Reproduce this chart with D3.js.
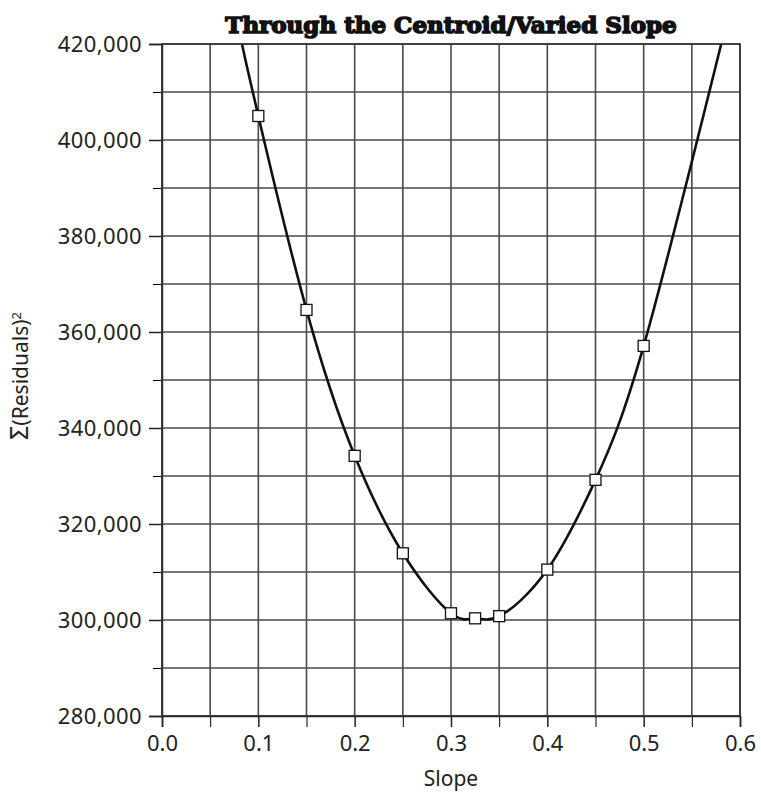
<!DOCTYPE html>
<html>
<head>
<meta charset="utf-8">
<script src="https://cdn.jsdelivr.net/npm/d3@7"></script>
<style>
	body{margin:0;background:#fff;}
	svg{display:block;}
</style>
</head>
<body>
<div id="chart"></div>
<script>
// data
const slopes = [0.1, 0.15, 0.2, 0.25, 0.3, 0.325, 0.35, 0.4, 0.45, 0.5];
const residuals = [405000, 364600, 334200, 313900, 301400, 300350, 300800, 310500, 329200, 357100];
// where the fitted curve leaves the top of the plot
const curveEnds = [[0.083, 420000], [0.5805, 420000]];
const xTicks = [0, 0.1, 0.2, 0.3, 0.4, 0.5, 0.6];
const yTicks = [280000, 300000, 320000, 340000, 360000, 380000, 400000, 420000];

const W = 761, H = 793;
const margin = {top:44, right:21, bottom:77, left:162};
const w = W - margin.left - margin.right;
const h = H - margin.top - margin.bottom;

const x = d3.scaleLinear().domain([0, 0.6]).range([0, w]);
const y = d3.scaleLinear().domain([280000, 420000]).range([h, 0]);

const svg = d3.select("#chart").append("svg")
	.attr("width", W)
	.attr("height", H);

const plot = svg.append("g")
	.attr("transform", `translate(${margin.left},${margin.top})`);

// grid
const gridColor = "#4a4a4a";
plot.append("g").selectAll("line")
	.data(d3.range(0, 0.6001, 0.05))
	.join("line")
	.attr("x1", d => x(d)).attr("x2", d => x(d))
	.attr("y1", 0).attr("y2", h)
	.style("stroke", gridColor)
	.style("stroke-width", 1.6);
plot.append("g").selectAll("line")
	.data(d3.range(280000, 420001, 10000))
	.join("line")
	.attr("y1", d => y(d)).attr("y2", d => y(d))
	.attr("x1", 0).attr("x2", w)
	.style("stroke", gridColor)
	.style("stroke-width", 1.6);

const font = "'Noto Sans', 'Open Sans', sans-serif";

// minor ticks
plot.append("g")
	.attr("transform", `translate(0,${h})`)
	.call(d3.axisBottom(x).tickValues(d3.range(0.05, 0.6, 0.1)).tickSize(11).tickFormat(""))
	.call(g => g.select(".domain").remove());
plot.append("g")
	.call(d3.axisLeft(y).tickValues(d3.range(290000, 420000, 20000)).tickSize(9).tickFormat(""))
	.call(g => g.select(".domain").remove());

// axes
const xAxis = plot.append("g")
	.attr("transform", `translate(0,${h})`)
	.call(d3.axisBottom(x).tickValues(xTicks).tickSize(11).tickPadding(8).tickFormat(d3.format(".1f")));
const yAxis = plot.append("g")
	.call(d3.axisLeft(y).tickValues(yTicks).tickSize(13).tickPadding(7).tickFormat(d3.format(",")));

[xAxis, yAxis].forEach(a => {
	a.selectAll("text")
		.style("font-family", font)
		.style("font-size", "22px")
		.style("fill", "#222");
	a.selectAll("line, path").style("stroke", "#222").style("stroke-width", 1.5);
});
yAxis.selectAll("text").attr("dy", "0.36em").style("letter-spacing", "0.4px");

// curve
const pts = [curveEnds[0]].concat(slopes.map((s, i) => [s, residuals[i]]), [curveEnds[1]]);
plot.append("clipPath").attr("id", "clip")
	.append("rect").attr("width", w).attr("height", h);
plot.append("path")
	.datum(pts)
	.attr("clip-path", "url(#clip)")
	.attr("d", d3.line().x(d => x(d[0])).y(d => y(d[1])).curve(d3.curveNatural))
	.style("fill", "none")
	.style("stroke", "#111")
	.style("stroke-width", 2.6);

// markers
const s = 11;
plot.append("g").selectAll("rect")
	.data(slopes)
	.join("rect")
	.attr("x", d => x(d) - s/2)
	.attr("y", (d, i) => y(residuals[i]) - s/2)
	.attr("width", s).attr("height", s)
	.style("fill", "#fff")
	.style("stroke", "#111")
	.style("stroke-width", 1.3);

// frame
plot.append("rect")
	.attr("width", w).attr("height", h)
	.style("fill", "none")
	.style("stroke", "#333")
	.style("stroke-width", 1.6);

// titles
svg.append("text")
	.attr("x", margin.left + w/2)
	.attr("y", 33)
	.attr("text-anchor", "middle")
	.text("Through the Centroid/Varied Slope")
	.style("font-family", "'DejaVu Serif', serif")
	.style("font-weight", "bold")
	.style("font-size", "23px")
	.style("stroke", "#111")
	.style("stroke-width", 1.6)
	.style("fill", "#111");

svg.append("text")
	.attr("x", margin.left + w/2)
	.attr("y", 786)
	.attr("text-anchor", "middle")
	.text("Slope")
	.style("font-family", font)
	.style("font-size", "21px")
	.style("fill", "#222");

svg.append("text")
	.attr("transform", `translate(28,${margin.top + h/2 - 4}) rotate(-90)`)
	.attr("text-anchor", "middle")
	.style("font-family", font)
	.style("font-size", "21px")
	.style("fill", "#222")
	.call(t => {
		t.append("tspan").text("\u03A3").style("font-size", "25px");
		t.append("tspan").text("(Residuals)");
		t.append("tspan").text("2").attr("dy", "-0.55em").style("font-size", "13px");
	});
</script>
</body>
</html>
